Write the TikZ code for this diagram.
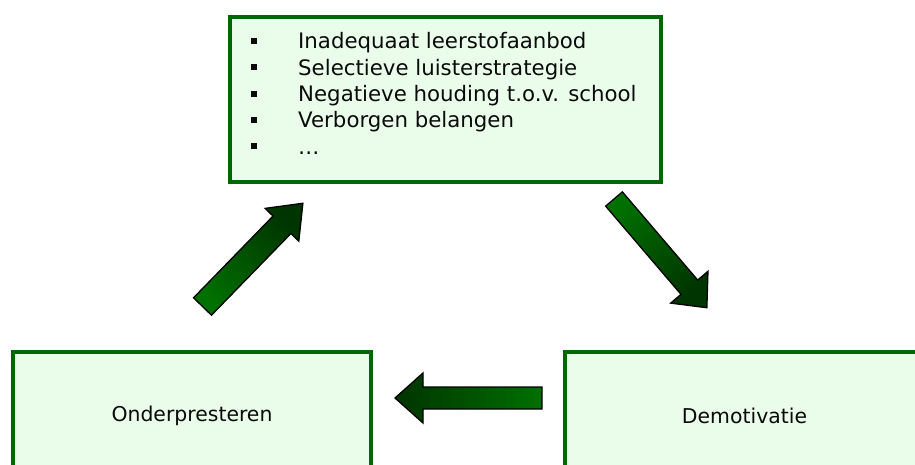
\documentclass[tikz,border=0pt]{standalone}
\usepackage{fontspec}
\setmainfont{DejaVu Sans}
\definecolor{boxline}{RGB}{0,104,0}
\definecolor{boxfill}{RGB}{234,253,234}
\definecolor{arrowlight}{RGB}{0,112,0}
\definecolor{arrowdark}{RGB}{0,52,0}
\definecolor{ink}{RGB}{10,10,10}
\tikzset{
  stagebox/.style={draw=boxline, line width=4pt, fill=boxfill, rectangle,
    inner sep=0pt, text=ink, font=\fontsize{20.4}{24}\selectfont},
  listitem/.style={anchor=base west, inner sep=0pt, text=ink,
    font=\fontsize{21.3}{25}\selectfont},
  arrowbody/.style={draw=black, line width=1.3pt, line join=miter,
    bottom color=arrowlight, top color=arrowdark}
}
% block arrow: #1 tail centre, #2 direction, #3 length, #4 shaft half-width,
% #5 head half-width, #6 head length, #7 shading angle
\newcommand{\cyclearrow}[7]{%
  \begin{scope}[shift={#1}, rotate=#2]
    \path[arrowbody, shading angle=#7]
      (0,-#4) -- (#3-#6,-#4) -- (#3-#6,-#5) -- (#3,0) -- (#3-#6,#5)
      -- (#3-#6,#4) -- (0,#4) -- cycle;
  \end{scope}}
\newcommand{\itembullet}{\makebox[47pt][l]{\rule[5pt]{6pt}{6pt}}}
\begin{document}
\begin{tikzpicture}[x=1pt, y=1pt]
  \useasboundingbox (0,0) rectangle (915,464);
  \clip (0,0) rectangle (915,464);

  % causes
  \node[stagebox, minimum width=431pt, minimum height=165pt] (causes) at (445.5,364.5) {};
  \node[listitem] (c1) at (251,415) {\itembullet Inadequaat leerstofaanbod};
  \node[listitem] (c2) at (251,388.7) {\itembullet Selectieve luisterstrategie};
  \node[listitem] (c3) at (251,362.4) {\itembullet Negatieve houding t.o.v. school};
  \node[listitem] (c4) at (251,336.1) {\itembullet Verborgen belangen};
  \node[listitem] (c5) at (251,309.8) {\itembullet …};

  % lower stages
  \node[stagebox, minimum width=358pt, minimum height=128pt] (under) at (192,48) {Onderpresteren};
  \node[stagebox, minimum width=359pt, minimum height=128pt] (demot) at (744.5,48) {Demotivatie};

  % cycle arrows
  \cyclearrow{(614,265)}{-49.5}{143}{11}{24.5}{27}{-139.5}
  \cyclearrow{(542,66)}{180}{147}{11}{25}{28}{90}
  \cyclearrow{(202.5,157.5)}{45.8}{144}{12.5}{23.5}{30}{-44.2}
\end{tikzpicture}
\end{document}
